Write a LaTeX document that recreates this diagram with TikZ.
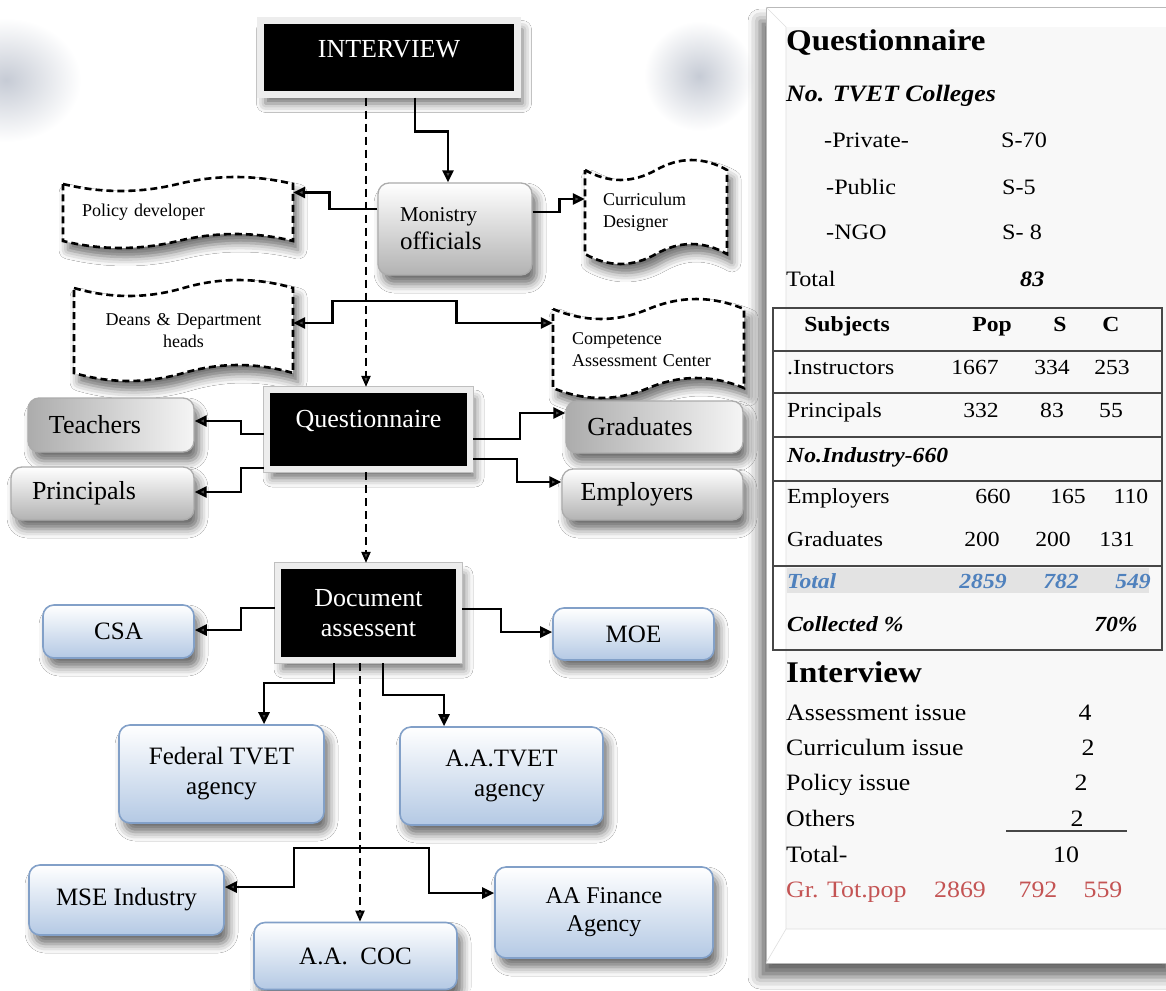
\documentclass[tikz,border=0pt]{standalone}
\usepackage{fontspec}
\setmainfont{Liberation Serif}
\newfontfamily\panelfont[FakeStretch=1.1]{Liberation Serif}
\usetikzlibrary{arrows.meta,shadows.blur}

\newcommand\fsz[2]{\fontsize{#1}{#2}\selectfont}

\definecolor{bluebord}{RGB}{130,160,200}
\definecolor{bluefill}{RGB}{180,201,228}
\definecolor{totblue}{RGB}{79,129,189}
\definecolor{grred}{RGB}{196,84,84}
\definecolor{haze}{RGB}{198,203,213}
\definecolor{panelbg}{RGB}{248,248,248}

% wavy "punched tape" outline: centre x, centre y, width, height, wave amplitude
\newcommand\tapeshape[5]{%
  \filldraw[tapeline]
    ({#1-#3/2},{#2-#4/2})
    .. controls ({#1-#3/3},{#2-#4/2+1.33*#5}) and ({#1-#3/6},{#2-#4/2+1.33*#5}) .. ({#1},{#2-#4/2})
    .. controls ({#1+#3/6},{#2-#4/2-1.33*#5}) and ({#1+#3/3},{#2-#4/2-1.33*#5}) .. ({#1+#3/2},{#2-#4/2})
    -- ({#1+#3/2},{#2+#4/2})
    .. controls ({#1+#3/3},{#2+#4/2-1.33*#5}) and ({#1+#3/6},{#2+#4/2-1.33*#5}) .. ({#1},{#2+#4/2})
    .. controls ({#1-#3/6},{#2+#4/2+1.33*#5}) and ({#1-#3/3},{#2+#4/2+1.33*#5}) .. ({#1-#3/2},{#2+#4/2})
    -- cycle;}

\tikzset{
  softshadow/.style={blur shadow={shadow xshift=5pt, shadow yshift=-9pt,
      shadow blur radius=9pt, shadow opacity=58}},
  blackbox/.style={softshadow, preaction={draw=gray!50, line width=7.8pt},
      fill=black, draw=white!93!black, line width=6.2pt, text=white,
      font=\fsz{26}{30}, align=center, inner sep=0pt},
  graybox/.style={softshadow, rounded corners=11pt, draw=gray!65, line width=1.3pt,
      font=\fsz{26}{30}, inner sep=0pt},
  grayv/.style={graybox, top color=white, bottom color=gray!60},
  grayh/.style={graybox, left color=gray!65, right color=gray!8},
  bluebox/.style={softshadow, rounded corners=11pt, draw=bluebord, line width=1.6pt,
      top color=white, bottom color=bluefill, font=\fsz{25}{30}, align=center,
      inner sep=0pt},
  tapeline/.style={softshadow, fill=white, draw=black, line width=2.6pt,
      dash pattern=on 7pt off 4pt},
  tapetext/.style={font=\fsz{18}{22}, align=left, inner ysep=0pt},
  arr/.style={line width=2.6pt, line join=miter, -{Triangle[length=12pt,width=11pt]}},
  biarr/.style={line width=2.6pt, line join=miter,
      {Triangle[length=12pt,width=11pt]}-{Triangle[length=12pt,width=11pt]}},
  darr/.style={line width=2pt, dash pattern=on 8pt off 5pt,
      -{Triangle[length=11pt,width=9pt]}},
  ph/.style={font=\panelfont\bfseries\fsz{30}{34}, inner sep=0pt, anchor=base west},
  pb/.style={font=\panelfont\fsz{22}{26}, inner sep=0pt},
  pt/.style={font=\panelfont\fsz{21.5}{25}, inner sep=0pt},
  ptb/.style={font=\panelfont\bfseries\fsz{21.5}{25}, inner sep=0pt},
  ptbi/.style={font=\panelfont\bfseries\itshape\fsz{21.5}{25}, inner sep=0pt},
  pi/.style={font=\panelfont\fsz{23.5}{27}, inner sep=0pt},
  rule/.style={black!72, line width=1.5pt},
}

\begin{document}
\begin{tikzpicture}[x=1pt, y=-1pt]
\useasboundingbox (0,0) rectangle (1166,990);
\fill[white] (0,0) rectangle (1166,990);

% soft haze spots
\shade[inner color=haze, outer color=white] (6,80) ellipse [x radius=75, y radius=62];
\shade[inner color=haze, outer color=white] (699,76) ellipse [x radius=55, y radius=55];

% ---------- summary panel ----------
\path[blur shadow={shadow xshift=-6pt, shadow yshift=-14pt, shadow blur radius=12pt,
      shadow opacity=60}, fill=white, draw=gray!55, line width=0.8pt]
  (766,7) rectangle (1180,963);
\fill[panelbg] (786,27) rectangle (1180,929);
\draw[gray!25, line width=0.6pt] (766,7) -- (786,27) (766,963) -- (786,929) -- (1180,929)
  (786,27) -- (786,929);

% table frame and rules
\fill[gray!22] (787,568) rectangle (1149,593);
\draw[rule] (773,308) rectangle (1162,650);
\foreach \yy in {351,393,437,481,566}
  \draw[rule] (773,\yy) -- (1162,\yy);
\draw[rule] (1006,831) -- (1127,831);

% questionnaire block
\node[ph] (qtitle) at (786,51) {Questionnaire};
\node[pb, font=\panelfont\bfseries\itshape\fsz{23.5}{27}, anchor=base west] (colleges) at (786,101) {No. TVET Colleges};
\node[pb, anchor=base west] (private) at (824,147) {-Private-};
\node[pb, anchor=base west] (privateS) at (1001,147) {S-70};
\node[pb, anchor=base west] (public) at (826,194) {-Public};
\node[pb, anchor=base west] (publicS) at (1002,194) {S-5};
\node[pb, anchor=base west] (ngo) at (826,239) {-NGO};
\node[pb, anchor=base west] (ngoS) at (1002,239) {S- 8};
\node[pb, anchor=base west] (coltotal) at (786,286) {Total};
\node[pb, font=\panelfont\bfseries\itshape\fsz{22}{26}, anchor=base west] (coltotalN) at (1020,286) {83};

% table
\node[ptb, anchor=base] (hsub) at (847,331) {Subjects};
\node[ptb, anchor=base] (hpop) at (992,331) {Pop};
\node[ptb, anchor=base] (hs) at (1060,331) {S};
\node[ptb, anchor=base] (hc) at (1111,331) {C};

\node[pt, anchor=base west] (rinst) at (787,374) {.Instructors};
\node[pt, anchor=base] (rinstP) at (975,374) {1667};
\node[pt, anchor=base] (rinstS) at (1052,374) {334};
\node[pt, anchor=base] (rinstC) at (1112,374) {253};

\node[pt, anchor=base west] (rprin) at (787,417) {Principals};
\node[pt, anchor=base] (rprinP) at (981,417) {332};
\node[pt, anchor=base] (rprinS) at (1052,417) {83};
\node[pt, anchor=base] (rprinC) at (1111,417) {55};

\node[ptbi, anchor=base west] (rind) at (787,462) {No.Industry-660};

\node[pt, anchor=base west] (remp) at (787,503) {Employers};
\node[pt, anchor=base] (rempP) at (993,503) {660};
\node[pt, anchor=base] (rempS) at (1068,503) {165};
\node[pt, anchor=base] (rempC) at (1131,503) {110};

\node[pt, anchor=base west] (rgrad) at (787,546) {Graduates};
\node[pt, anchor=base] (rgradP) at (982,546) {200};
\node[pt, anchor=base] (rgradS) at (1053,546) {200};
\node[pt, anchor=base] (rgradC) at (1117,546) {131};

\node[ptbi, text=totblue, anchor=base west] (rtot) at (787,588) {Total};
\node[ptbi, text=totblue, anchor=base] (rtotP) at (983,588) {2859};
\node[ptbi, text=totblue, anchor=base] (rtotS) at (1061,588) {782};
\node[ptbi, text=totblue, anchor=base] (rtotC) at (1133,588) {549};

\node[ptbi, anchor=base west] (rcol) at (787,631) {Collected \%};
\node[ptbi, anchor=base] (rcolC) at (1116,631) {70\%};

% interview block
\node[ph] (ititle) at (786,682) {Interview};
\node[pi, anchor=base west] (iass) at (786,720) {Assessment issue};
\node[pi, anchor=base] (iassN) at (1085,720) {4};
\node[pi, anchor=base west] (icur) at (786,755) {Curriculum issue};
\node[pi, anchor=base] (icurN) at (1088,755) {2};
\node[pi, anchor=base west] (ipol) at (786,790) {Policy issue};
\node[pi, anchor=base] (ipolN) at (1081,790) {2};
\node[pi, anchor=base west] (ioth) at (786,826) {Others};
\node[pi, anchor=base] (iothN) at (1077,826) {2};
\node[pi, anchor=base west] (itot) at (786,862) {Total-};
\node[pi, anchor=base] (itotN) at (1066,862) {10};
\node[pi, text=grred, anchor=base west] (gtot) at (786,897) {Gr. Tot.pop};
\node[pi, text=grred, anchor=base] (gtotP) at (960,897) {2869};
\node[pi, text=grred, anchor=base] (gtotS) at (1038,897) {792};
\node[pi, text=grred, anchor=base] (gtotC) at (1103,897) {559};

% ---------- flow diagram ----------
% wavy outlines first, their labels on top
\tapeshape{178}{212.5}{230}{57}{7}
\node[tapetext, minimum width=230pt, minimum height=57pt, text width=192pt, inner xsep=19pt] (policy) at (178,212.5) {Policy developer};
\tapeshape{656}{212}{142}{84}{10}
\node[tapetext, minimum width=142pt, minimum height=84pt, text width=106pt, inner xsep=18pt] (curric) at (656,212) {Curriculum\\Designer};
\tapeshape{183.5}{330.5}{219}{85}{8}
\node[tapetext, align=center, minimum width=219pt, minimum height=85pt, text width=200pt, inner xsep=9.5pt] (deans) at (183.5,330.5) {Deans \& Department\\heads};
\tapeshape{648.5}{348.5}{191}{79}{10}
\node[tapetext, minimum width=191pt, minimum height=79pt, text width=153pt, inner xsep=19pt] (compet) at (648.5,350) {Competence\\Assessment Center};

% main stages
\node[blackbox, minimum width=257pt, minimum height=74pt, text depth=18pt] (interview) at (389,57.5) {INTERVIEW};
\node[blackbox, minimum width=203pt, minimum height=79pt, text height=17pt, text depth=22pt] (quest) at (368.5,429.5) {Questionnaire};
\node[blackbox, minimum width=181pt, minimum height=94pt] (doc) at (368.5,613) {Document\\assessent};

% interview targets
\node[grayv, minimum width=154pt, minimum height=92pt, text width=110pt, inner xsep=22pt,
      align=left, font=\fsz{25}{28}] (ministry) at (455,229) {{\fontsize{21}{28}\selectfont Monistry}\\officials};

% questionnaire targets
\node[grayh, minimum width=166pt, minimum height=54pt] (teachers) at (111,425) {Teachers\hspace*{32pt}};
\node[grayv, minimum width=183pt, minimum height=53pt] (principals) at (102.5,493.5) {Principals\hspace*{37pt}};
\node[grayh, minimum width=177pt, minimum height=52pt] (graduates) at (654.5,427) {Graduates\hspace*{29pt}};
\node[grayv, minimum width=181pt, minimum height=51pt] (employers) at (652.5,494.5) {Employers\hspace*{31pt}};

% document targets
\node[bluebox, minimum width=151pt, minimum height=53pt] (csa) at (118.5,631.5) {CSA};
\node[bluebox, minimum width=161pt, minimum height=52pt] (moe) at (633.5,634) {MOE};
\node[bluebox, minimum width=205pt, minimum height=98pt] (fed) at (221.5,774) {Federal TVET\\agency};
\node[bluebox, minimum width=203pt, minimum height=98pt] (aatvet) at (501.5,776) {A.A.TVET\\\hspace*{16pt}agency};
\node[bluebox, minimum width=195pt, minimum height=70pt] (mse) at (126.5,900) {MSE Industry};
\node[bluebox, minimum width=203pt, minimum height=67pt] (coc) at (355.5,956) {A.A.\ \ COC};
\node[bluebox, minimum width=218pt, minimum height=91pt, font=\fsz{24}{28}] (fin) at (604,912.5) {AA Finance\\Agency};

% ---------- connectors ----------
\coordinate (dl) at (366,0);
\coordinate (dl2) at (360,0);
\draw[darr] (interview.south -| dl) -- (quest.north -| dl);
\draw[darr] (quest.south -| dl) -- (doc.north -| dl);
\draw[darr] (doc.south -| dl2) -- (coc.north -| dl2);

\draw[arr] ([xshift=26pt]interview.south) -- ++(0,34) -| ([xshift=-7pt]ministry.north);
\draw[arr] ([yshift=20pt]ministry.west) -- ++(-48,0) |- ([yshift=20pt]policy.east);
\draw[arr] ([yshift=17pt]ministry.east) -- ++(27,0) |- ([yshift=13pt]curric.west);
\draw[biarr] ([yshift=7.5pt]deans.east) -- ++(39,0) -- ++(0,-22) -- ++(124,0) |- ([yshift=27pt]compet.west);

\draw[arr] ([yshift=-4.5pt]quest.west) -- ++(-23,0) |- ([yshift=4pt]teachers.east);
\draw[arr] ([yshift=-38.5pt]quest.west) -- ++(-23,0) |- ([yshift=1.5pt]principals.east);
\draw[arr] ([yshift=-9.5pt]quest.east) -- ++(47,0) |- ([yshift=14pt]graduates.west);
\draw[arr] ([yshift=-29.5pt]quest.east) -- ++(44,0) |- ([yshift=12.5pt]employers.west);

\draw[arr] ([yshift=5pt]doc.west) -- ++(-34,0) |- ([yshift=1.5pt]csa.east);
\draw[arr] ([yshift=4pt]doc.east) -- ++(39,0) |- ([yshift=2pt]moe.west);
\draw[arr] ([xshift=-34.5pt]doc.south) -- ++(0,20) -| ([xshift=42.5pt]fed.north);
\draw[arr] ([xshift=14.5pt]doc.south) -- ++(0,32) -| ([xshift=-57.5pt]aatvet.north);

\coordinate (br) at (360,848);
\draw[arr] (br) -- ++(-66,0) |- ([yshift=13pt]mse.east);
\draw[arr] (br) -- ++(69,0) |- ([yshift=19.5pt]fin.west);
\end{tikzpicture}
\end{document}
